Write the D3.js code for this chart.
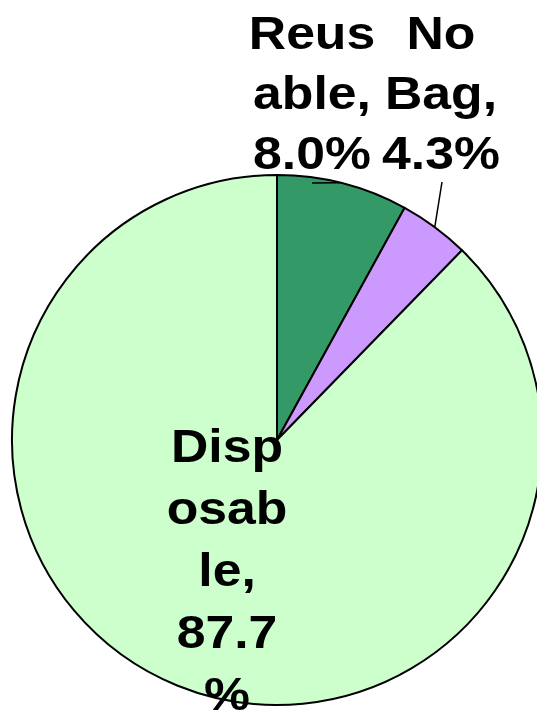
<!DOCTYPE html>
<html>
<head>
<meta charset="utf-8">
<script src="https://cdn.jsdelivr.net/npm/d3@7"></script>
<style>
  html, body { margin: 0; padding: 0; background: #fff; }
  svg { display: block; }
  .lbl { font-family: "Liberation Sans", Arial, sans-serif; font-weight: bold; font-size: 47px; fill: #000; }
</style>
</head>
<body>
<div id="chart"></div>
<script>
// data
var categories = ["Reusable", "No Bag", "Disposable"];
var shares = [8.0, 4.3, 87.7];
// label text as it wraps in the original
var labelLines = [
  ["Reus", "able,", "8.0%"],
  ["No", "Bag,", "4.3%"],
  ["Disp", "osab", "le,", "87.7", "%"]
];
var colors = ["#339966", "#CC99FF", "#CCFFCC"];

var W = 537, H = 711;
var cx = 277, cy = 440, R = 265;

var svg = d3.select("#chart").append("svg")
  .attr("width", W).attr("height", H);

var pie = d3.pie().sort(null).value(function(d) { return d; });
var arcs = pie(shares);
var arc = d3.arc().innerRadius(0).outerRadius(R);

var g = svg.append("g").attr("transform", "translate(" + cx + "," + cy + ")");

g.selectAll("path.slice")
  .data(arcs)
  .enter().append("path")
  .attr("class", "slice")
  .attr("d", arc)
  .attr("fill", function(d, i) { return colors[i]; })
  .attr("stroke", "#000")
  .attr("stroke-width", 2)
  .attr("stroke-linejoin", "round");

// label placement (layout, not data)
var labelPos = [
  {x: 312, y: 49, lh: 60},
  {x: 441, y: 49, lh: 60},
  {x: 227, y: 462, lh: 62}
];

// leader lines: from under the label to a point on the slice's arc
function arcPoint(a) { return [cx + R * Math.sin(a), cy - R * Math.cos(a)]; }
var leaders = [
  {from: [312, 183], angle: arcs[0].startAngle + (arcs[0].endAngle - arcs[0].startAngle) * 0.48},
  {from: [442, 182], angle: (arcs[1].startAngle + arcs[1].endAngle) / 2}
];
leaders.forEach(function(l) {
  var p = arcPoint(l.angle);
  svg.append("line")
    .attr("x1", l.from[0]).attr("y1", l.from[1])
    .attr("x2", p[0]).attr("y2", p[1])
    .attr("stroke", "#000").attr("stroke-width", 1.5);
});

labelLines.forEach(function(lines, i) {
  var p = labelPos[i];
  var t = svg.append("text")
    .attr("class", "lbl")
    .attr("text-anchor", "middle")
    .attr("transform", "translate(" + p.x + "," + p.y + ") scale(1.1,1)");
  lines.forEach(function(s, k) {
    t.append("tspan").attr("x", 0).attr("y", k * p.lh).text(s);
  });
});
</script>
</body>
</html>
